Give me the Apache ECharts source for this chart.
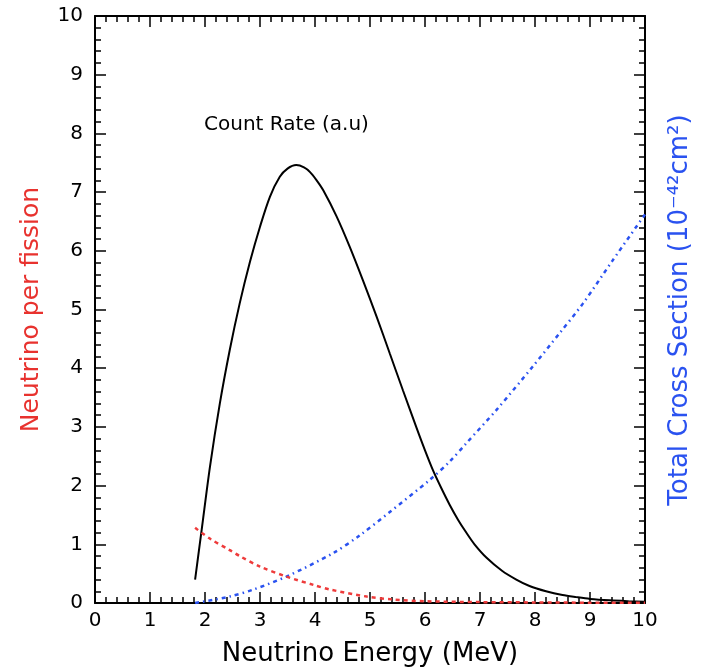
<!DOCTYPE html>
<html>
<head>
<meta charset="utf-8">
<script src="https://cdn.jsdelivr.net/npm/echarts@6/dist/echarts.min.js"></script>
<style>
html,body{margin:0;padding:0;background:#fff;}
#chart{width:711px;height:669px;}
</style>
</head>
<body>
<div id="chart"></div>
<script>
// Count rate (black solid)
var countE = [1.82,1.94,2.09,2.27,2.45,2.63,2.82,3.0,3.18,3.36,3.5,3.66,3.8,3.91,4.03,4.15,4.39,4.63,4.87,5.12,5.36,5.60,5.84,6.0,6.15,6.3,6.45,6.6,6.75,6.9,7.12,7.4,7.66,7.9,8.2,8.5,8.75,9.0,9.36,9.7,10];
var countV = [0.40,1.25,2.32,3.40,4.31,5.10,5.82,6.41,6.92,7.26,7.40,7.46,7.42,7.34,7.20,7.03,6.59,6.07,5.50,4.88,4.25,3.62,3.00,2.60,2.25,1.95,1.67,1.42,1.20,1.00,0.77,0.55,0.40,0.29,0.20,0.135,0.10,0.07,0.045,0.03,0.02];
// Cross section (blue dash-dot)
var xsecE = [1.82,2.45,2.88,3.48,4.33,4.81,5.36,6.09,6.45,6.75,7.30,7.96,8.45,8.87,9.4,10];
var xsecV = [0,0.11,0.23,0.45,0.85,1.15,1.55,2.10,2.41,2.72,3.29,4.03,4.6,5.10,5.82,6.62];
// Neutrino per fission (red dashed)
var fluxE = [1.82,2.1,2.45,2.63,3.0,3.48,4.0,4.27,4.94,5.42,6,7,8,9,10];
var fluxV = [1.28,1.09,0.90,0.80,0.62,0.45,0.30,0.23,0.11,0.06,0.03,0.015,0.01,0.005,0.003];

function pairs(xs, ys){ return xs.map(function(x,i){return [x, ys[i]];}); }

var chart = echarts.init(document.getElementById('chart'));
var FONT = '"DejaVu Sans", "Liberation Sans", sans-serif';
var axisLine = {show:true, onZero:false, lineStyle:{color:'#000', width:2}};
var axisTick = {show:true, inside:true, length:11, lineStyle:{color:'#000', width:1.5}};
var minorTick = {show:true, splitNumber:5, length:6, lineStyle:{color:'#000', width:1.5}};

var option = {
  backgroundColor:'#fff',
  animation:false,
  grid:{left:95, right:66, top:16, bottom:66, containLabel:false, outerBoundsMode:'none'},
  xAxis:[{
    type:'value', min:0, max:10, interval:1, position:'bottom',
    axisLine:axisLine, axisTick:axisTick, minorTick:minorTick,
    splitLine:{show:false},
    axisLabel:{color:'#000', fontSize:20, fontFamily:FONT, margin:8},
    name:'Neutrino Energy (MeV)', nameLocation:'middle', nameGap:38,
    nameTextStyle:{color:'#000', fontSize:26, fontFamily:FONT}
  },{
    type:'value', min:0, max:10, interval:1, position:'top',
    axisLine:axisLine, axisTick:axisTick, minorTick:minorTick,
    splitLine:{show:false}, axisLabel:{show:false}
  }],
  yAxis:[{
    type:'value', min:0, max:10, interval:1, position:'left',
    axisLine:axisLine, axisTick:axisTick, minorTick:minorTick,
    splitLine:{show:false},
    axisLabel:{color:'#000', fontSize:20, fontFamily:FONT, margin:12},
    name:'Neutrino per fission', nameLocation:'middle', nameGap:51, nameRotate:90,
    nameTextStyle:{color:'#e8322e', fontSize:25, fontFamily:FONT}
  },{
    type:'value', min:0, max:10, interval:1, position:'right',
    axisLine:axisLine, axisTick:axisTick, minorTick:minorTick,
    splitLine:{show:false}, axisLabel:{show:false}
  }],
  graphic:[{
    type:'text', left:204, top:115,
    style:{text:'Count Rate (a.u)', fill:'#000', font:'20px ' + FONT}
  },{
    type:'text', x:680, y:310, rotation:Math.PI/2,
    style:{text:'Total Cross Section (10\u207B\u2074\u00B2cm\u00B2)', fill:'#2a52f0',
      font:'26px ' + FONT, align:'center', verticalAlign:'middle'}
  }],
  series:[{
    type:'line', name:'count', data:pairs(countE, countV), xAxisIndex:0, yAxisIndex:0,
    smooth:0.3, showSymbol:false, lineStyle:{color:'#000', width:2}
  },{
    type:'line', name:'xsec', data:pairs(xsecE, xsecV), xAxisIndex:0, yAxisIndex:0,
    smooth:0.3, showSymbol:false, lineStyle:{color:'#2a52f0', width:2.5, type:[4,4,1.5,4]}
  },{
    type:'line', name:'flux', data:pairs(fluxE, fluxV), xAxisIndex:0, yAxisIndex:0,
    smooth:0.3, showSymbol:false, lineStyle:{color:'#ee3b3b', width:2.5, type:[4,4]}
  }]
};
chart.setOption(option);
</script>
</body>
</html>
